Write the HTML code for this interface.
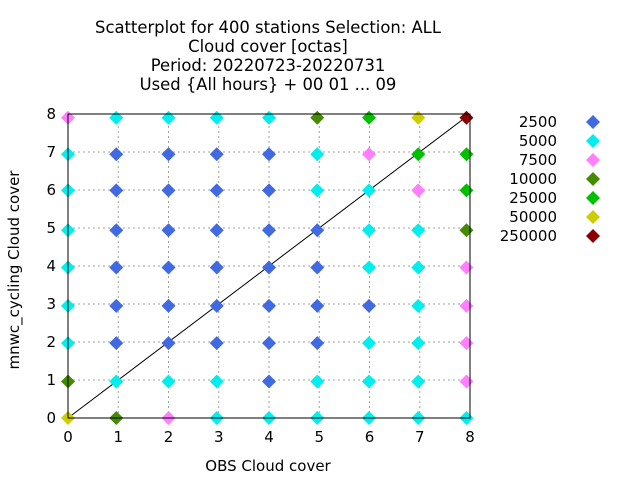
<!DOCTYPE html>
<html><head><meta charset="utf-8"><style>
body{margin:0;background:#fff;}
svg text{font-family:"DejaVu Sans","Liberation Sans",sans-serif;fill:#000;}
</style></head><body>
<svg width="640" height="480" xmlns="http://www.w3.org/2000/svg">
<g id="titles" font-size="16.4" text-anchor="middle">
<text x="268" y="33">Scatterplot for  400 stations Selection: ALL</text>
<text x="268" y="52">Cloud cover [octas]</text>
<text x="268" y="71">Period: 20220723-20220731</text>
<text x="268" y="90">Used {All hours} + 00 01 ... 09</text>
</g>
<g id="grid"></g>
<g id="diag"></g>
<g id="marks"></g>
<rect x="68" y="114" width="402" height="304" fill="none" stroke="#000" stroke-width="1"/>
<g id="ticks" font-size="15"></g>
<text x="268" y="471" font-size="15" text-anchor="middle">OBS Cloud cover</text>
<text x="0" y="0" font-size="15" text-anchor="middle" transform="translate(19,270) rotate(-90)">mnwc_cycling Cloud cover</text>
<g id="legend" font-size="15"></g>
</svg>
<script>
const xTicks=[0,1,2,3,4,5,6,7,8];
const yTicks=[0,1,2,3,4,5,6,7,8];
const colVals=[0,0.96,2,2.96,4,4.96,5.99,6.97,7.93];
const rowVals=[0,0.96,1.97,2.95,3.96,4.94,5.99,6.94,7.9];
const legendLabels=["2500","5000","7500","10000","25000","50000","250000"];
const legendColors=["#4169e1","#00eeee","#ff7fff","#458b00","#00c000","#cdcd00","#8b0000"];
const countClass=[
"Y D P C C C C C C",
"D C C C B C C C P",
"C B B B B B C C P",
"C B B B B B B C P",
"C B B B B B C C P",
"C B B B B B C C D",
"C B B B B C C P G",
"C B B B B C P G G",
"P C C C C D G Y R"];
const codeIdx={B:0,C:1,P:2,D:3,G:4,Y:5,R:6};
const NS="http://www.w3.org/2000/svg";
const X0=68,X1=470,Y0=418,Y1=114;
const sx=v=>X0+(X1-X0)*v/8, sy=v=>Y0-(Y0-Y1)*v/8;
function mk(t,a,p){const e=document.createElementNS(NS,t);for(const k in a)e.setAttribute(k,a[k]);document.getElementById(p).appendChild(e);return e;}
xTicks.forEach(v=>{
 if(v>0&&v<8){const l=mk('line',{x1:sx(v),x2:sx(v),y1:Y0,y2:Y1,stroke:'#a0a0a0','stroke-dasharray':'2,3'},'grid');
 
 }
 const t=mk('text',{x:sx(v),y:Y0+24,'text-anchor':'middle'},'ticks');t.textContent=v;
 
 
});
yTicks.forEach(v=>{
 if(v>0&&v<8){const l=mk('line',{x1:X0,x2:X1,y1:sy(v),y2:sy(v),stroke:'#a0a0a0','stroke-dasharray':'2,3'},'grid');
 
 }
 const t=mk('text',{x:X0-12,y:sy(v)+5,'text-anchor':'end'},'ticks');t.textContent=v;
 
 
});
const d=mk('line',{x1:sx(0),y1:sy(0),x2:sx(8),y2:sy(8),stroke:'#000','stroke-width':1},'diag');


function diamond(cx,cy,c,p){return mk('polygon',{points:`${cx},${cy-7} ${cx+7},${cy} ${cx},${cy+7} ${cx-7},${cy}`,fill:c},p);}
countClass.forEach((row,ri)=>{row.split(' ').forEach((code,ci)=>{
 const p=diamond(sx(colVals[ci]),sy(rowVals[ri]),legendColors[codeIdx[code]],'marks');
 
 
});});
legendLabels.forEach((lab,i)=>{
 const y=122+i*19;
 const t=mk('text',{x:557,y:y+5,'text-anchor':'end'},'legend');t.textContent=lab;
 
 
 const p=diamond(593,y,legendColors[i],'legend');
 
 
});
</script>
</body></html>
